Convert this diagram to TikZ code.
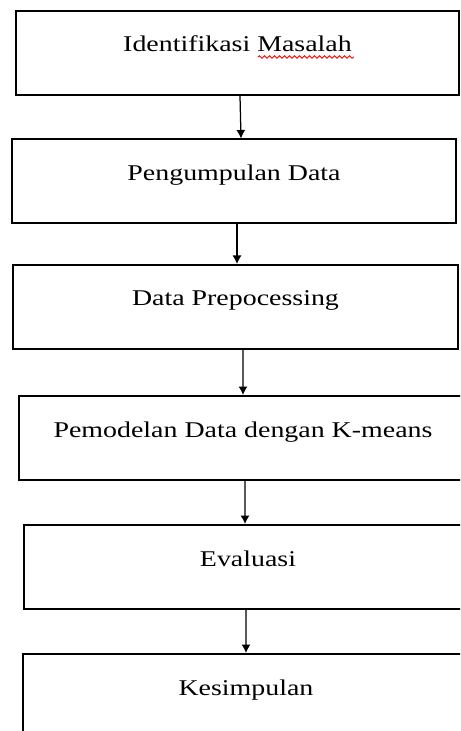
\documentclass[tikz,border=0pt]{standalone}
\usepackage{fontspec}
\setmainfont[FakeStretch=1.24]{Liberation Serif}
\usetikzlibrary{arrows.meta,positioning,decorations.pathmorphing}

\begin{document}
\begin{tikzpicture}[x=0.4pt,y=-0.4pt]
	\tikzset{stepbox/.style={draw,line width=0.8pt,minimum height=33.6pt,inner sep=0pt,
		text height=6pt,text depth=6.8pt,font=\fontsize{9}{11}\selectfont}}
	\tikzset{spell/.style={red,line width=0.35pt,decorate,decoration={snake,amplitude=0.5pt,segment length=2pt}}}
	\useasboundingbox (0,0) rectangle (460,731);
	\clip (0,0) rectangle (460,731);

	\node[stepbox,minimum width=177.2pt] (b1) at (237.5,53) {Identifikasi Masalah};
	\node[stepbox,minimum width=177.6pt] (b2) at (234,181.5) {Pengumpulan Data};
	\node[stepbox,minimum width=178pt] (b3) at (235.5,307) {Data Prepocessing};
	\node[stepbox,minimum width=179.2pt] (b4) at (243,438) {Pemodelan Data dengan K-means};
	\node[stepbox,minimum width=179.2pt] (b5) at (248,567) {Evaluasi};
	\node[stepbox,minimum width=178.4pt] (b6) at (246,696) {Kesimpulan};

	%% spell check line
	\draw[spell] ([shift={(20.5,4)}]b1.center) -- ++(96,0);

	\path[-{Latex[length=3.4pt,width=3.6pt]},line width=0.5pt]
		([xshift=1pt]b1.south) edge ([xshift=2.8pt]b2.north)
		([xshift=1.2pt]b2.south) edge ([xshift=0.6pt]b3.north)
		([xshift=3pt]b3.south) edge (b4.north)
		([xshift=0.8pt]b4.south) edge ([xshift=-1.2pt]b5.north)
		([xshift=-0.8pt]b5.south) edge (b6.north);
\end{tikzpicture}
\end{document}
